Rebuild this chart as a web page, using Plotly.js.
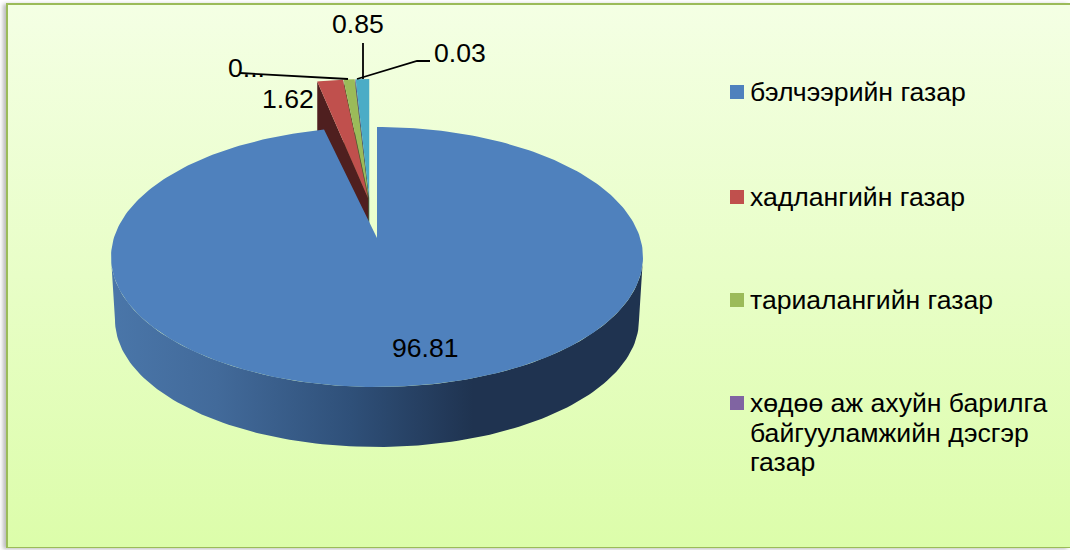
<!DOCTYPE html>
<html><head><meta charset="utf-8">
<script src="https://cdn.plot.ly/plotly-3.0.1.min.js"></script>
<style>
html,body{margin:0;padding:0;background:#fff;width:1070px;height:550px;overflow:hidden}
#bg{position:absolute;left:6px;top:3px;width:1064px;height:545px;border:solid #9bbb59;border-width:2px 0 1px 2px;box-sizing:border-box;
background:linear-gradient(to bottom,#f4ffe4 0%,#dcfdaa 100%);box-shadow:-3px 1px 4px #bbb}
#chart{position:absolute;left:0;top:0;width:1070px;height:550px}
</style></head><body>
<div id="bg"></div><div id="chart"></div>
<script>
// data
const categories = ['бэлчээрийн газар','хадлангийн газар','тариалангийн газар','хөдөө аж ахуйн барилга\nбайгууламжийн дэсгэр\nгазар'];
const values = [96.81,1.62,0.69,0.03,0.85];
const valueLabels = ['96.81','1.62','0...','0.03','0.85'];
const topColors = ['#4f81bd','#c0504d','#9bbb59','#8064a2','#4bacc6'];
const wallColors = ['#2f4f77','#4f1f1f','#4b5c2a','#3f3150','#25566a'];

// drawing geometry (page pixels mapped onto the axes)
const W=1070,H=550,FS=26.6,FONT='Liberation Sans, Arial, sans-serif';
const disc={apexX:377,apexY:238,cx:377,cy:257,rx:266,ry:130};
const base={cx:369.5,cy:209,apexY:198,shift:10,rx:255,depth:72};
const floor={cx:377,cy:320,rx:262,ry:127};
const legendX=737,legendTextX=748,legendY=[92,197,300,403],lineGap=29.5;
const labelPos=[[425,348],[288,99],[246,68],[460,53],[358,24]];
const leaders=[[[240,348],[73,79]],[[363,363],[43,79]],[[430,417,357],[61,61,79]]];

const rad=d=>d*Math.PI/180;
function arc(cx,cy,rx,ry,a0,a1,n){const xs=[],ys=[];for(let i=0;i<=n;i++){const a=rad(a0+(a1-a0)*i/n);xs.push(cx+rx*Math.sin(a));ys.push(cy-ry*Math.cos(a));}return [xs,ys];}
const total=values.reduce((a,b)=>a+b,0);
const traces=[];
function poly(x,y,color,extra){traces.push(Object.assign({type:'scatter',mode:'lines',x:x,y:y,fill:'toself',fillcolor:color,line:{width:0,color:color},hoverinfo:'skip',showlegend:false},extra||{}));}

// side wall of the big slice
const wa=arc(disc.cx,disc.cy,disc.rx,disc.ry,270,90,120), wb=arc(floor.cx,floor.cy,floor.rx,floor.ry,90,270,120);
poly(wa[0].concat(wb[0]),wa[1].concat(wb[1]),wallColors[0],{fillgradient:{type:'horizontal',colorscale:[[0,'#4a76a9'],[0.2,'#426a9a'],[0.45,'#2f5079'],[0.68,'#1f3350'],[1,'#1f3350']]}});

// angles for every slice
let cum=0;const ang=values.map(v=>{const a=cum/total*360;cum+=v;return [a,cum/total*360];});

// cut faces of the pulled-out slices, then their tops
const small=[];
for(let i=values.length-1;i>=1;i--){
  const a0=ang[i][0]-360,a1=ang[i][1]-360,mid=(a0+a1)/2;
  const ax=base.cx+base.shift*Math.sin(rad(mid));
  const lx=ax+base.rx*Math.sin(rad(a0)),ly=base.cy-disc.ry*Math.cos(rad(a0));
  poly([lx,lx,ax,ax],[ly,ly+base.depth,base.apexY+base.depth,base.apexY],wallColors[i]);
  small.push([i,a0,a1,ax]);
}
small.forEach(([i,a0,a1,ax])=>{
  const c=arc(ax,base.cy,base.rx,disc.ry,a0,a1,10);
  poly([ax].concat(c[0]),[base.apexY].concat(c[1]),topColors[i]);
});
// top of the big slice
const bt=arc(disc.cx,disc.cy,disc.rx,disc.ry,ang[0][0],ang[0][1],300);
poly([disc.apexX].concat(bt[0]),[disc.apexY].concat(bt[1]),topColors[0]);

// leader lines
leaders.forEach(l=>traces.push({type:'scatter',mode:'lines',x:l[0],y:l[1],line:{color:'#000',width:1.8},hoverinfo:'skip',showlegend:false}));

// legend keys
traces.push({type:'scatter',mode:'markers',x:legendY.map(()=>legendX),y:legendY,marker:{symbol:'square',size:14,color:topColors.slice(0,4),line:{width:0}},hoverinfo:'skip',showlegend:false});

const annotations=[];
valueLabels.forEach((t,i)=>annotations.push({x:labelPos[i][0],y:labelPos[i][1],text:t,showarrow:false,xanchor:'center',yanchor:'middle',font:{family:FONT,size:FS,color:'#000'}}));
categories.forEach((t,i)=>t.split('\n').forEach((line,k)=>annotations.push({x:legendTextX,y:legendY[i]+k*lineGap,yanchor:'middle',text:line,align:'left',showarrow:false,xanchor:'left',font:{family:FONT,size:FS,color:'#000'}})));

Plotly.newPlot('chart',traces,{
  width:W,height:H,margin:{l:0,r:0,t:0,b:0},paper_bgcolor:'rgba(0,0,0,0)',plot_bgcolor:'rgba(0,0,0,0)',showlegend:false,
  xaxis:{range:[0,W],visible:false,fixedrange:true},yaxis:{range:[H,0],visible:false,fixedrange:true},annotations:annotations
},{displayModeBar:false,staticPlot:true});
</script></body></html>
